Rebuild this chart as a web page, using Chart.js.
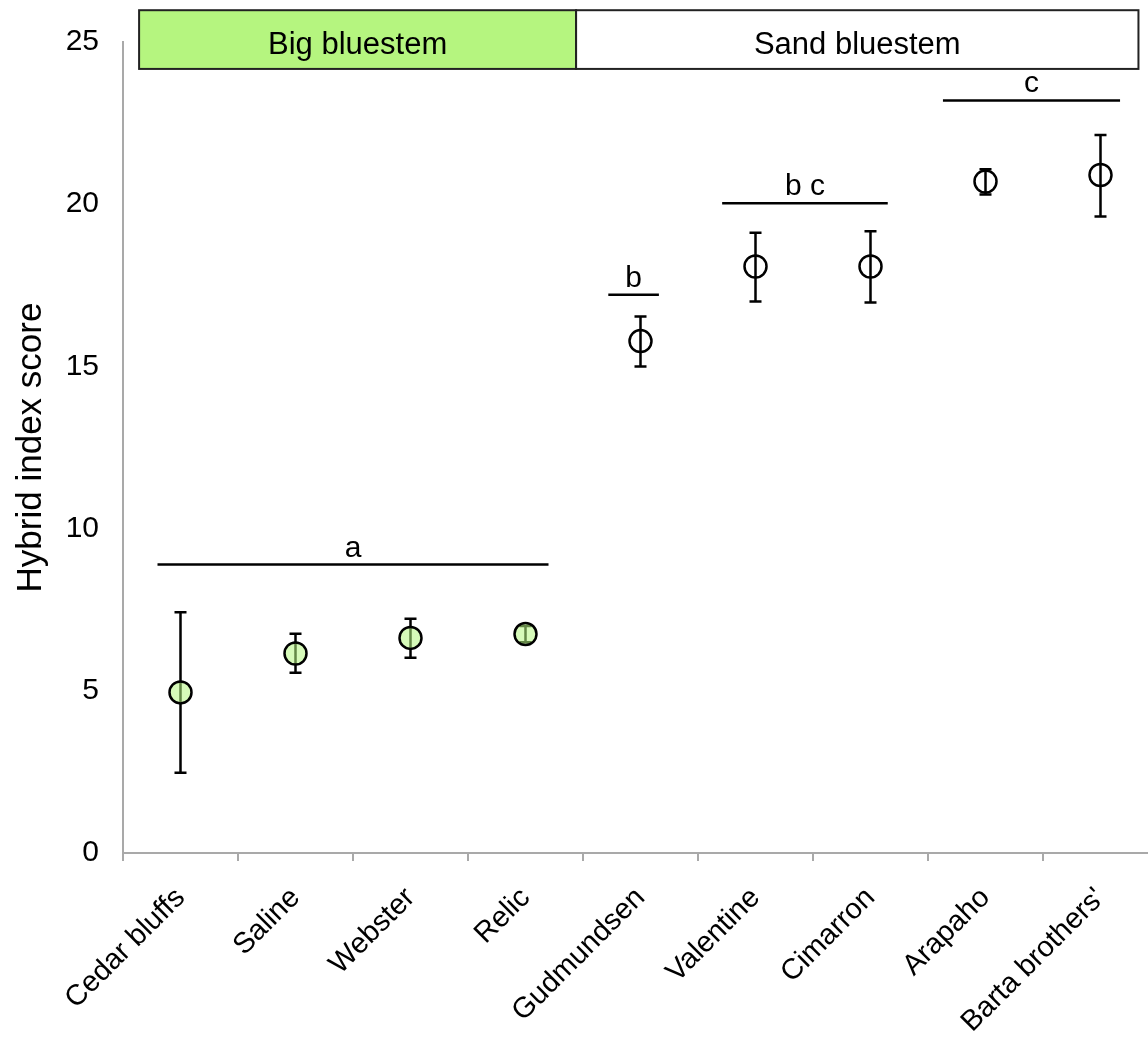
<!DOCTYPE html>
<html>
<head>
<meta charset="utf-8">
<script src="https://cdn.jsdelivr.net/npm/chart.js@4.4.1/dist/chart.umd.min.js"></script>
<style>
  html, body { margin: 0; padding: 0; background: #fff; overflow: hidden; }
  #wrap { width: 1160px; height: 1038px; }
</style>
</head>
<body>
<div id="wrap"><canvas id="chart" width="1160" height="1038"></canvas></div>
<script>
// --- data ---
const categories = ['Cedar bluffs', 'Saline', 'Webster', 'Relic', 'Gudmundsen', 'Valentine', 'Cimarron', 'Arapaho', "Barta brothers'"];
const species = ['big', 'big', 'big', 'big', 'sand', 'sand', 'sand', 'sand', 'sand'];
const means = [4.95, 6.15, 6.63, 6.75, 15.78, 18.08, 18.08, 20.7, 20.9];
const errLow = [2.47, 5.56, 6.02, 6.5, 15.0, 17.0, 16.97, 20.3, 19.62];
const errHigh = [7.42, 6.76, 7.22, 7.0, 16.54, 19.12, 19.17, 21.08, 22.13];
const yTicks = [0, 5, 10, 15, 20, 25];

// significance groups (letter, bar height, span in category units)
const sigLabels = ['a', 'b', 'b c', 'c'];
const sigValue = [8.89, 17.21, 20.03, 23.2];
const sigFrom = [-0.2, 3.72, 4.71, 6.63];
const sigTo = [3.2, 4.16, 6.15, 8.17];

// species header boxes
const groupNames = ['Big bluestem', 'Sand bluestem'];
const groupFrom = [-0.36, 3.44];
const groupTo = [3.44, 8.33];
const groupFill = ['#b5f57f', '#ffffff'];
const headerBottom = 24.17;
const headerTop = 25.98;

const FONT = '"Liberation Sans", Arial, Helvetica, sans-serif';
const AXIS_GREY = '#a9a9a9';

// error bars drawn under the markers
const errorBars = {
  id: 'errorBars',
  beforeDatasetsDraw(chart) {
    const { ctx, scales: { x, y } } = chart;
    ctx.save();
    ctx.strokeStyle = '#000';
    ctx.lineWidth = 2.5;
    categories.forEach((c, i) => {
      const px = x.getPixelForValue(i);
      const top = y.getPixelForValue(errHigh[i]);
      const bot = y.getPixelForValue(errLow[i]);
      ctx.beginPath();
      ctx.moveTo(px, top); ctx.lineTo(px, bot);
      ctx.moveTo(px - 6, top); ctx.lineTo(px + 6, top);
      ctx.moveTo(px - 6, bot); ctx.lineTo(px + 6, bot);
      ctx.stroke();
    });
    ctx.restore();
  }
};

// significance bars and the species header
const annotations = {
  id: 'annotations',
  afterDraw(chart) {
    const { ctx, scales: { x, y } } = chart;
    ctx.save();
    ctx.fillStyle = '#000';
    ctx.strokeStyle = '#000';
    ctx.lineWidth = 2.5;
    ctx.font = '30px ' + FONT;
    ctx.textAlign = 'center';
    ctx.textBaseline = 'alphabetic';
    sigLabels.forEach((lab, i) => {
      const x0 = x.getPixelForValue(sigFrom[i]);
      const x1 = x.getPixelForValue(sigTo[i]);
      const py = y.getPixelForValue(sigValue[i]);
      ctx.beginPath();
      ctx.moveTo(x0, py); ctx.lineTo(x1, py);
      ctx.stroke();
      ctx.fillText(lab, (x0 + x1) / 2, py - 8);
    });

    const top = y.getPixelForValue(headerTop);
    const bot = y.getPixelForValue(headerBottom);
    ctx.lineWidth = 2;
    ctx.strokeStyle = '#222';
    ctx.font = '31px ' + FONT;
    groupNames.forEach((name, i) => {
      const x0 = x.getPixelForValue(groupFrom[i]);
      const x1 = x.getPixelForValue(groupTo[i]);
      ctx.fillStyle = groupFill[i];
      ctx.fillRect(x0, top, x1 - x0, bot - top);
      ctx.strokeRect(x0, top, x1 - x0, bot - top);
      ctx.fillStyle = '#000';
      ctx.fillText(name, (x0 + x1) / 2, bot - 15);
    });
    ctx.restore();
  }
};

new Chart(document.getElementById('chart'), {
  type: 'line',
  data: {
    labels: categories,
    datasets: [{
      data: means,
      showLine: false,
      pointRadius: 11,
      pointHoverRadius: 11,
      pointBorderWidth: 2.5,
      pointBorderColor: '#000',
      pointBackgroundColor: species.map((s) => (s === 'big' ? 'rgba(181,245,127,0.55)' : 'rgba(255,255,255,0)')),
    }],
  },
  options: {
    responsive: false,
    animation: false,
    events: [],
    // plot runs slightly past the right edge of the picture (canvas is wider than the window)
    layout: { autoPadding: false, padding: { top: 40, left: 0, right: 2, bottom: 0 } },
    plugins: { legend: { display: false }, tooltip: { enabled: false } },
    scales: {
      x: {
        offset: true,
        grid: { display: true, offset: true, drawOnChartArea: false, drawTicks: true, tickLength: 8, color: AXIS_GREY, lineWidth: 2 },
        border: { display: true, color: AXIS_GREY, width: 2 },
        ticks: { autoSkip: false, minRotation: 45, maxRotation: 45, padding: 20, color: '#000', font: { family: FONT, size: 29 } },
        afterFit(scale) {
          scale.height = 185;
          scale.paddingLeft = 0;
          scale.paddingRight = 0;
        },
      },
      y: {
        min: 0,
        max: 25,
        afterBuildTicks(scale) { scale.ticks = yTicks.map((v) => ({ value: v })); },
        grid: { display: true, drawOnChartArea: false, drawTicks: false },
        border: { display: true, color: AXIS_GREY, width: 2 },
        ticks: { padding: 24, color: '#000', font: { family: FONT, size: 30 } },
        title: { display: true, text: 'Hybrid index score', color: '#000', padding: { top: 10, bottom: 0 }, font: { family: FONT, size: 35 } },
        afterFit(scale) { scale.width = 123; },
      },
    },
  },
  plugins: [errorBars, annotations],
});
</script>
</body>
</html>
